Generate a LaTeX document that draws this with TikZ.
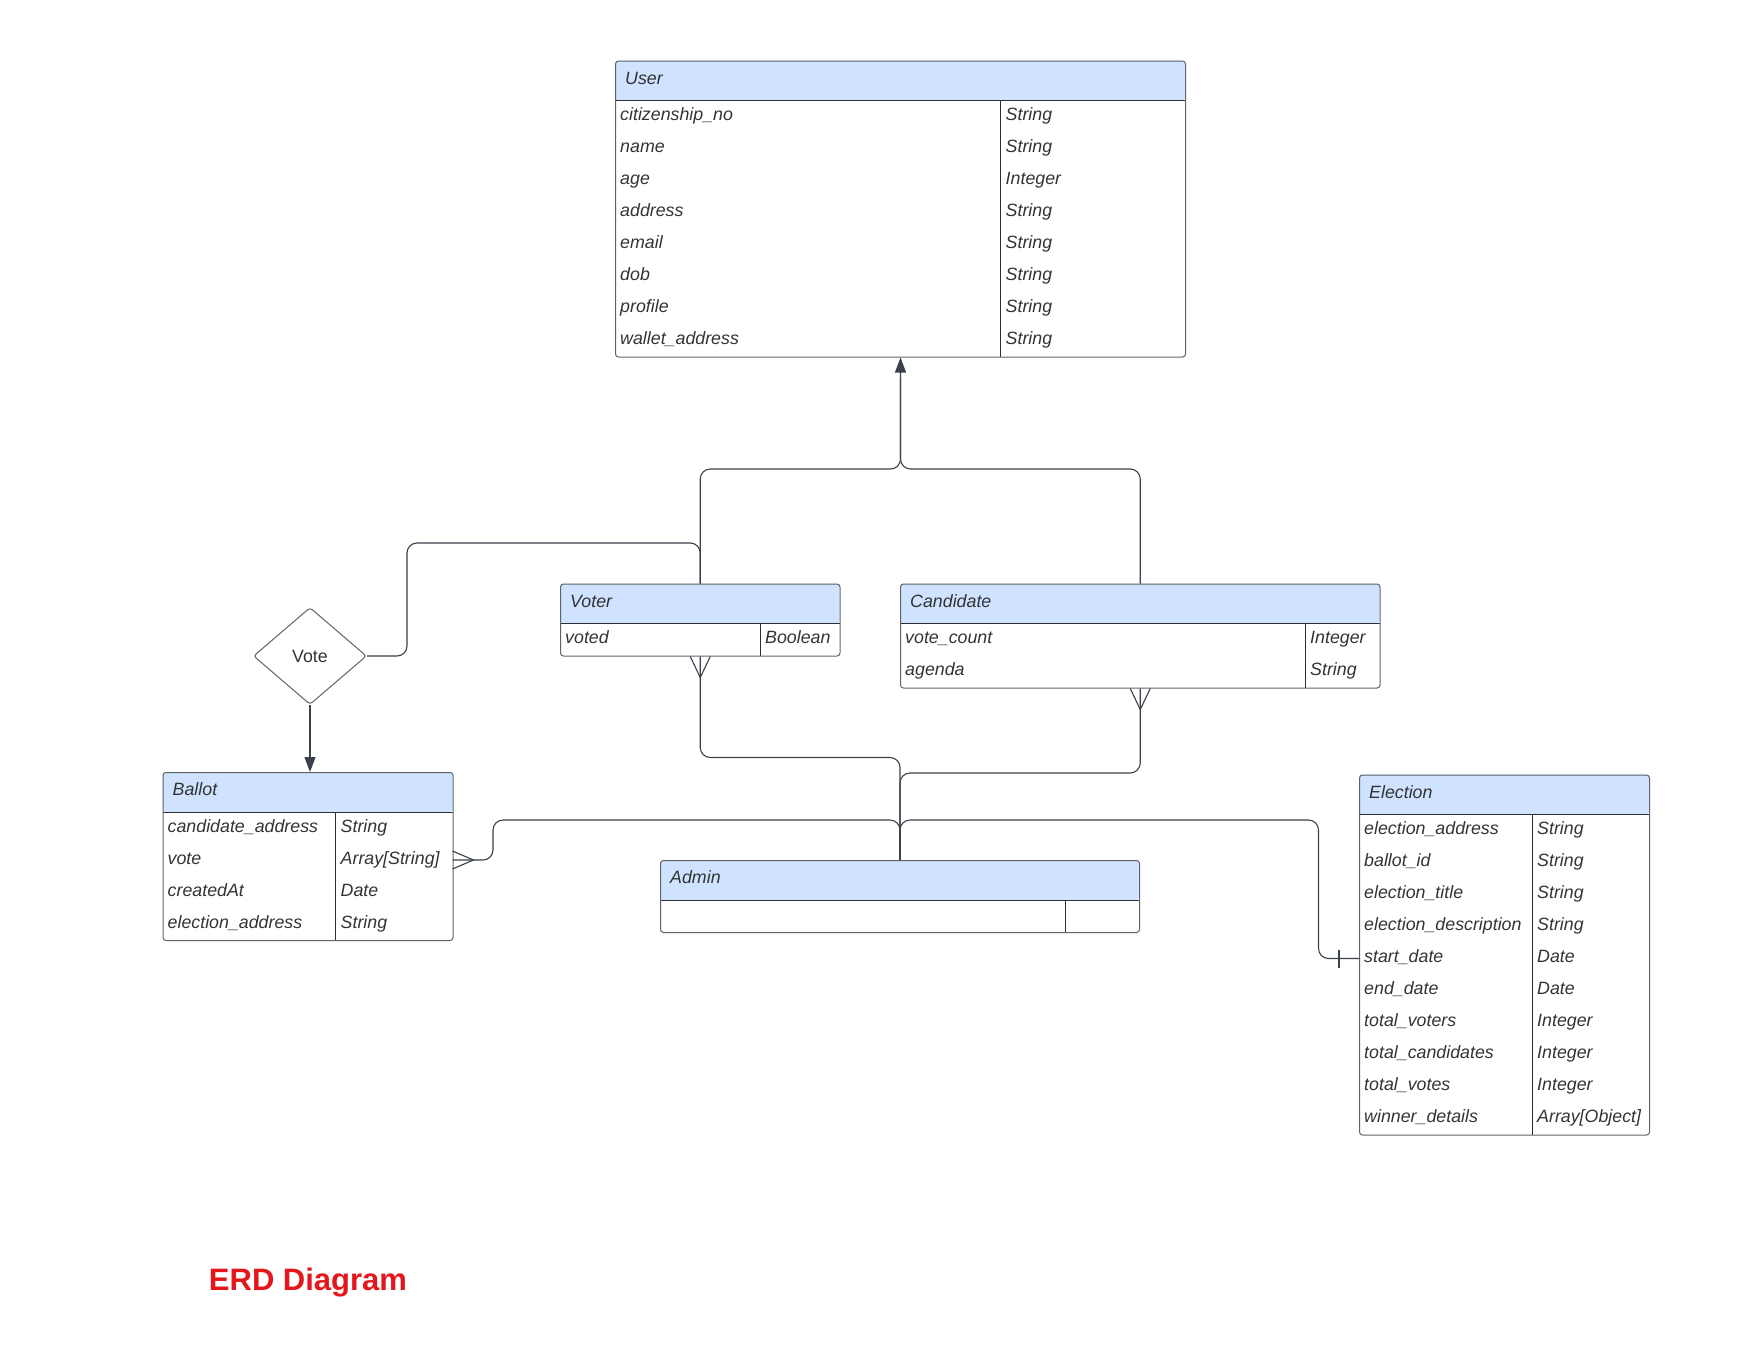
\documentclass[tikz,border=0pt]{standalone}
\usepackage{fontspec}
\setmainfont{Liberation Sans}
\usetikzlibrary{shapes.geometric,arrows.meta}

\definecolor{hdr}{HTML}{CFE2FF}
\definecolor{ln}{HTML}{3A414A}
\definecolor{edge}{HTML}{5F6368}
\definecolor{inln}{HTML}{2B2F33}
\definecolor{txt}{HTML}{333333}
\definecolor{ttl}{HTML}{E3161B}

\tikzset{
  frame/.style={draw=edge, line width=1pt, rounded corners=3pt, inner sep=0pt},
  inner/.style={draw=inln, line width=0.9pt},
  cell/.style={anchor=base west, inner sep=0pt, text=txt,
    font=\fontsize{17.8}{20}\selectfont\itshape},
  link/.style={draw=ln, line width=1.1pt, rounded corners=10pt},
  foot/.style={draw=ln, line width=1.1pt},
  tip/.style={-{Triangle[length=15pt,width=11pt]}},
}

% entity box: name, title, left, top, right, divider x, number of rows
\newcommand\erentity[7]{%
  \pgfmathsetmacro\erH{#4+40}%
  \pgfmathsetmacro\erB{#4+40+32*#7}%
  \pgfmathsetmacro\erW{#5-#3}%
  \pgfmathsetmacro\erT{\erB-#4}%
  \fill[hdr, rounded corners=3pt] (#3,#4) rectangle (#5,\erH);
  \draw[inner] (#3,\erH) -- (#5,\erH) (#6,\erH) -- (#6,\erB);
  \node[frame, minimum width=\erW pt, minimum height=\erT pt, anchor=north west] (#1) at (#3,#4) {};
  \node[cell] (#1-title) at (#3+10,#4+23.5) {#2};
}

% attribute rows: name, left, divider x, right, top, list name/type
\newcommand\errows[6]{%
  \foreach \a/\b [count=\i] in {#6} {
    \node[cell] (#1-n\i) at (#2+5,#5+40+32*\i-12) {\a};
    \node[cell] (#1-v\i) at (#3+5,#5+40+32*\i-12) {\b};
    \coordinate (#1-L\i) at (#2,#5+40+32*\i-16);
    \coordinate (#1-R\i) at (#4,#5+40+32*\i-16);
  }
}

\begin{document}
\begin{tikzpicture}[x=1pt,y=-1pt]
\useasboundingbox (0,0) rectangle (1760,1360);

% entities
\erentity{user}{User}{615}{60.5}{1185}{1000.5}{8}
\errows{user}{615}{1000.5}{1185}{60.5}{citizenship\_no/String, name/String, age/Integer, address/String, email/String, dob/String, profile/String, wallet\_address/String}

\erentity{voter}{Voter}{560}{583.5}{839.5}{760}{1}
\errows{voter}{560}{760}{839.5}{583.5}{voted/Boolean}

\erentity{cand}{Candidate}{900}{583.5}{1379.5}{1305}{2}
\errows{cand}{900}{1305}{1379.5}{583.5}{vote\_count/Integer, agenda/String}

\erentity{ballot}{Ballot}{162.5}{772}{452.5}{335.5}{4}
\errows{ballot}{162.5}{335.5}{452.5}{772}{candidate\_address/String, vote/{Array[String]}, createdAt/Date, election\_address/String}

\erentity{admin}{Admin}{660}{860}{1139}{1065}{1}

\erentity{election}{Election}{1359}{774.5}{1649}{1532}{10}
\errows{election}{1359}{1532}{1649}{774.5}{election\_address/String, ballot\_id/String, election\_title/String, election\_description/String, start\_date/Date, end\_date/Date, total\_voters/Integer, total\_candidates/Integer, total\_votes/Integer, winner\_details/{Array[Object]}}

% relationship
\node[diamond, draw=edge, line width=1pt, rounded corners=3pt, inner sep=0pt,
  minimum width=113pt, minimum height=97pt, text=txt,
  font=\fontsize{17.8}{20}\selectfont] (vote) at (310,656) {Vote};

% generalisation: Voter and Candidate are Users
\draw[link, tip] (voter.north) -- (voter.north |- 0,469) -- (user.south |- 0,469) -- (user.south);
\draw[link] (cand.north) -- (cand.north |- 0,469) -- (user.south |- 0,469) -- ([yshift=-20pt]user.south);

% Vote relationship
\draw[link] (vote.east) -- (vote.east -| 407,0) -- (407,543) -- (voter.north |- 0,543) -- (voter.north);
\draw[link, tip] (vote.south) -- (vote.south |- ballot.north);

% links into Admin
\draw[link] (voter.south) -- (voter.south |- 0,757.5) -- (admin.north |- 0,757.5) -- (admin.north);
\draw[link] (cand.south) -- (cand.south |- 0,773) -- (admin.north |- 0,773) -- (admin.north);
\draw[link] (ballot-R2) -- (ballot-R2 -| 493,0) -- (493,820) -- (admin.north |- 0,820) -- (admin.north);
\draw[link] (election-L5) -- (election-L5 -| 1318.5,0) -- (1318.5,820) -- (admin.north |- 0,820) -- (admin.north);

% crow's feet and bar
\draw[foot] ([xshift=-10pt]voter.south) -- ([yshift=-21pt]voter.south) -- ([xshift=10pt]voter.south);
\draw[foot] ([xshift=-10pt]cand.south) -- ([yshift=-21pt]cand.south) -- ([xshift=10pt]cand.south);
\draw[foot] ([yshift=9pt]ballot-R2) -- ([xshift=21pt]ballot-R2) -- ([yshift=-9pt]ballot-R2);
\draw[foot] ([xshift=-20pt,yshift=9pt]election-L5) -- ([xshift=-20pt,yshift=-9pt]election-L5);

% caption
\node[anchor=base, inner sep=0pt, text=ttl, font=\fontsize{31}{36}\selectfont\bfseries] (caption) at (308,1290) {ERD Diagram};
\end{tikzpicture}
\end{document}
